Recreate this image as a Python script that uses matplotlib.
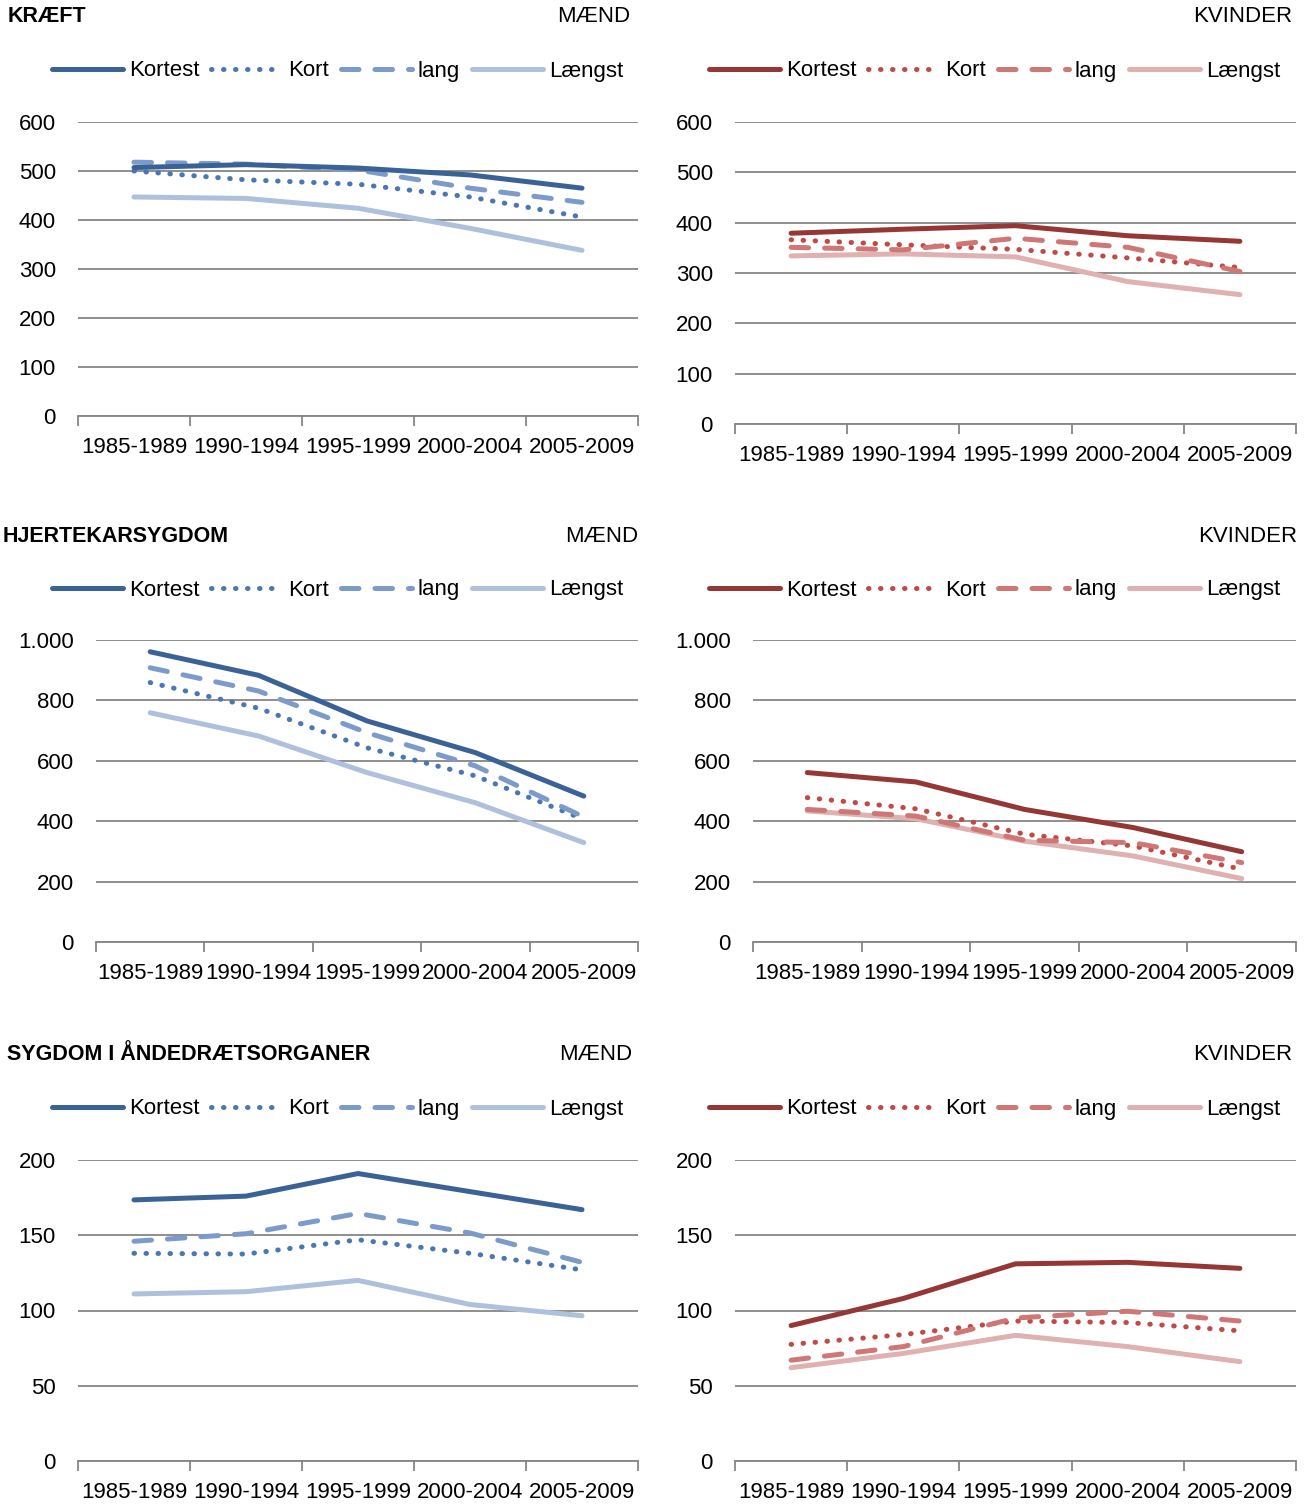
from matplotlib import pyplot as plt
import numpy as np

periods = ["1985-1989", "1990-1994", "1995-1999", "2000-2004", "2005-2009"]
series_names = ["Kortest", "Kort", "lang", "Længst"]

# KRÆFT
kraeft_m_kortest = [507, 513, 506, 492, 465]
kraeft_m_kort = [500, 482, 473, 447, 406]
kraeft_m_lang = [518, 514, 502, 465, 436]
kraeft_m_laengst = [447, 444, 424, 383, 338]
kraeft_k_kortest = [379, 387, 394, 374, 363]
kraeft_k_kort = [366, 356, 347, 330, 311]
kraeft_k_lang = [351, 346, 369, 351, 303]
kraeft_k_laengst = [334, 338, 332, 283, 257]

# HJERTEKARSYGDOM
hjerte_m_kortest = [961, 883, 732, 627, 483]
hjerte_m_kort = [859, 774, 643, 550, 406]
hjerte_m_lang = [908, 831, 693, 583, 414]
hjerte_m_laengst = [759, 682, 561, 461, 329]
hjerte_k_kortest = [561, 530, 439, 379, 299]
hjerte_k_kort = [478, 441, 357, 318, 241]
hjerte_k_lang = [439, 417, 337, 329, 263]
hjerte_k_laengst = [434, 408, 334, 285, 210]

# SYGDOM I ÅNDEDRÆTSORGANER
aande_m_kortest = [173.5, 176, 191, 179, 167]
aande_m_kort = [138, 137.5, 147, 138, 127]
aande_m_lang = [146, 151, 164.5, 151.5, 132]
aande_m_laengst = [111, 112.5, 120, 104, 96.5]
aande_k_kortest = [90, 108, 131, 132, 128]
aande_k_kort = [77.5, 84, 93, 92, 86.5]
aande_k_lang = [67, 76, 95, 99.5, 93]
aande_k_laengst = [62, 71.5, 83.5, 76, 66]

blue = ["#3B6296", "#4A77B4", "#7C9BCB", "#AFC0DC"]
red = ["#953735", "#BE4B48", "#CF7775", "#DFB1B0"]

W, H = 1309, 1505
plt.rcParams["font.family"] = ["Liberation Sans", "DejaVu Sans"]
FS = 16

fig = plt.figure(figsize=(W / 100, H / 100), dpi=100)


def px_axes(x0, y0, x1, y1):
    return fig.add_axes([x0 / W, 1 - y1 / H, (x1 - x0) / W, (y1 - y0) / H])


def draw_panel(box, data, colors, ymax, ystep, legend_x, legend_y):
    ax = px_axes(*box)
    x = np.arange(len(periods)) + 0.5
    styles = [
        dict(ls="-", lw=3.6, solid_capstyle="round"),
        dict(ls=(0, (0.1, 2.3)), lw=3.6, dash_capstyle="round"),
        dict(ls=(0, (3.5, 3.2)), lw=3.6, dash_capstyle="round"),
        dict(ls="-", lw=3.6, solid_capstyle="round"),
    ]
    order = [3, 1, 2, 0]
    lines = {}
    for i in order:
        (ln,) = ax.plot(x, data[i], color=colors[i], label=series_names[i], **styles[i])
        lines[i] = ln
    ax.set_xlim(0, len(periods))
    ax.set_ylim(0, ymax)
    yt = np.arange(0, ymax + 1, ystep)
    ax.set_yticks(yt)
    ax.set_yticklabels([f"{int(v):,}".replace(",", ".") for v in yt], fontsize=FS)
    ax.tick_params(axis="y", length=0, pad=16)
    ax.set_xticks(np.arange(len(periods) + 1))
    ax.set_xticklabels([])
    ax.set_xticks(x, minor=True)
    ax.set_xticklabels(periods, minor=True, fontsize=FS)
    ax.tick_params(axis="x", which="major", length=7, width=1.3, color="#868686")
    ax.tick_params(axis="x", which="minor", length=0, pad=15)
    ax.grid(axis="y", color="#868686", lw=1.3)
    ax.set_axisbelow(True)
    for s in ["top", "right", "left"]:
        ax.spines[s].set_visible(False)
    ax.spines["bottom"].set_color("#868686")
    ax.spines["bottom"].set_linewidth(1.3)
    ax.spines["bottom"].set_zorder(1)
    fig.legend([lines[i] for i in range(4)], series_names, loc="center left",
               bbox_to_anchor=(legend_x / W, 1 - legend_y / H), ncol=4, frameon=False,
               fontsize=FS, handlelength=3.2, handletextpad=0.25, columnspacing=0.55,
               borderaxespad=0, borderpad=0)
    return ax


panels = [
    ((78, 122, 638, 416), [kraeft_m_kortest, kraeft_m_kort, kraeft_m_lang, kraeft_m_laengst], blue, 600, 100, 52, 71),
    ((735, 122, 1296, 424), [kraeft_k_kortest, kraeft_k_kort, kraeft_k_lang, kraeft_k_laengst], red, 600, 100, 709, 71),
    ((96, 640, 638, 942), [hjerte_m_kortest, hjerte_m_kort, hjerte_m_lang, hjerte_m_laengst], blue, 1000, 200, 52, 590),
    ((753, 640, 1296, 942), [hjerte_k_kortest, hjerte_k_kort, hjerte_k_lang, hjerte_k_laengst], red, 1000, 200, 709, 590),
    ((78, 1160, 638, 1461), [aande_m_kortest, aande_m_kort, aande_m_lang, aande_m_laengst], blue, 200, 50, 52, 1109),
    ((735, 1160, 1296, 1461), [aande_k_kortest, aande_k_kort, aande_k_lang, aande_k_laengst], red, 200, 50, 709, 1109),
]
for p in panels:
    draw_panel(*p)

titles = [("KRÆFT", 8, 17), ("HJERTEKARSYGDOM", 3, 536), ("SYGDOM I ÅNDEDRÆTSORGANER", 7, 1054)]
for t, tx, ty in titles:
    fig.text(tx / W, 1 - ty / H, t, fontsize=15.5, fontweight="bold", ha="left", va="center")

sex_labels = [("MÆND", 630, 17), ("KVINDER", 1292, 17), ("MÆND", 638, 536),
              ("KVINDER", 1297, 536), ("MÆND", 632, 1054), ("KVINDER", 1292, 1054)]
for t, tx, ty in sex_labels:
    fig.text(tx / W, 1 - ty / H, t, fontsize=FS, ha="right", va="center")

fig.savefig("out.png", dpi=100, facecolor="white")
